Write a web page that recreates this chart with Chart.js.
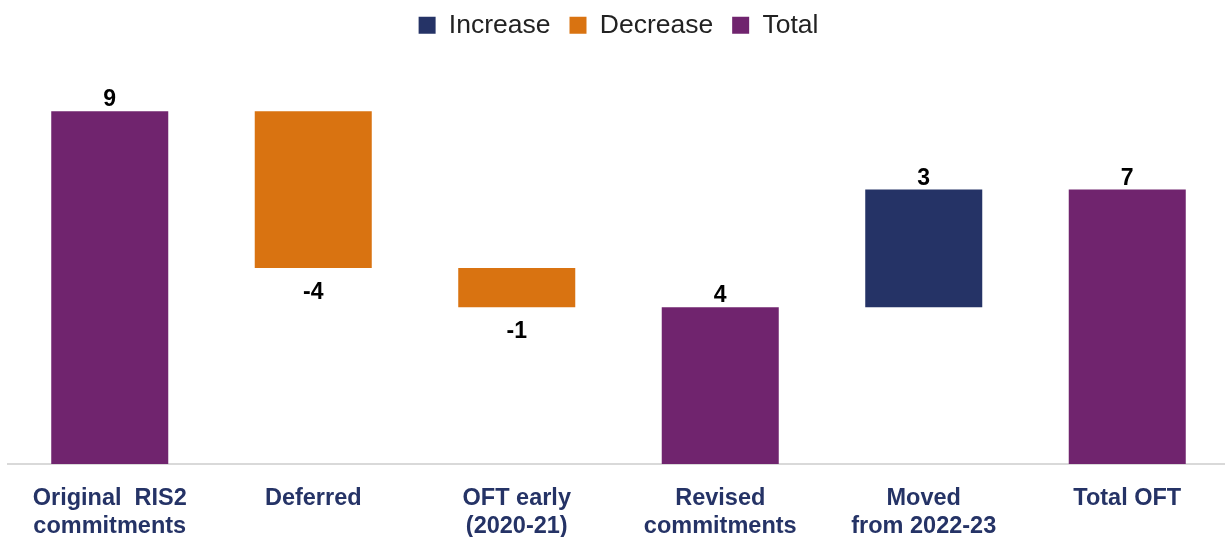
<!DOCTYPE html>
<html>
<head>
<meta charset="utf-8">
<script src="https://cdn.jsdelivr.net/npm/chart.js@4/dist/chart.umd.min.js"></script>
<style>
  html, body { margin: 0; padding: 0; background: #fff; overflow: hidden; }
  #wrap { width: 1229px; height: 537px; }
</style>
</head>
<body>
<div id="wrap"><canvas id="waterfall"></canvas></div>
<script>
const categories = [
  ['Original  RIS2', 'commitments'],
  'Deferred',
  ['OFT early', '(2020-21)'],
  ['Revised', 'commitments'],
  ['Moved', 'from 2022-23'],
  'Total OFT'
];
const values = [9, -4, -1, 4, 3, 7];
const kinds = ['Total', 'Decrease', 'Decrease', 'Total', 'Increase', 'Total'];
const seriesNames = ['Increase', 'Decrease', 'Total'];
const colours = { Increase: '#253366', Decrease: '#D97311', Total: '#70246E' };

const FONT = '"Liberation Sans", Arial, sans-serif';

// running totals -> floating bar ranges
let running = 0;
const ranges = values.map((v, i) => {
  if (kinds[i] === 'Total') { running = v; return [0, v]; }
  const r = [running, running + v];
  running += v;
  return r;
});

const datasets = seriesNames.map(name => ({
  label: name,
  data: ranges.map((r, i) => kinds[i] === name ? r : null),
  backgroundColor: colours[name],
  barPercentage: 0.575,
  categoryPercentage: 1
}));

// value labels: above for totals / increases, below for decreases
const valueLabels = {
  id: 'valueLabels',
  afterDatasetsDraw(chart) {
    const ctx = chart.ctx;
    ctx.save();
    ctx.font = 'bold 23px ' + FONT;
    ctx.fillStyle = '#000';
    ctx.textAlign = 'center';
    ctx.textBaseline = 'alphabetic';
    chart.data.datasets.forEach((ds, di) => {
      const meta = chart.getDatasetMeta(di);
      meta.data.forEach((bar, i) => {
        if (ds.data[i] == null) return;
        const v = values[i];
        const top = Math.min(bar.y, bar.base);
        const bottom = Math.max(bar.y, bar.base);
        if (v < 0) {
          ctx.fillText(String(v), bar.x, bottom + 31);
        } else {
          ctx.fillText(String(v), bar.x, top - 5);
        }
      });
    });
    ctx.restore();
  }
};

// fixed legend block height (leaves a gap above the bars)
const legendGap = {
  id: 'legendGap',
  beforeInit(chart) {
    const origFit = chart.legend.fit;
    chart.legend.fit = function () {
      origFit.bind(chart.legend)();
      this.height = 79;
    };
  }
};

new Chart(document.getElementById('waterfall'), {
  type: 'bar',
  data: { labels: categories, datasets: datasets },
  plugins: [valueLabels, legendGap],
  options: {
    responsive: true,
    maintainAspectRatio: false,
    animation: false,
    layout: { padding: { left: 8, right: 0, top: -7, bottom: 0 } },
    plugins: {
      legend: {
        position: 'top',
        labels: {
          boxWidth: 17,
          boxHeight: 17,
          padding: 19,
          color: '#222',
          font: { family: FONT, size: 26.5 }
        }
      },
      tooltip: { enabled: false }
    },
    scales: {
      x: {
        stacked: true,
        grid: { display: false, drawTicks: false },
        border: { color: '#d9d9d9', width: 2 },
        afterFit(scale) { scale.height = 73; },
        ticks: {
          color: '#253366',
          padding: 20,
          maxRotation: 0,
          autoSkip: false,
          font: { family: FONT, size: 23.5, weight: 'bold', lineHeight: 1.2 }
        }
      },
      y: {
        stacked: false,
        display: false,
        min: 0,
        max: 10
      }
    }
  }
});
</script>
</body>
</html>
